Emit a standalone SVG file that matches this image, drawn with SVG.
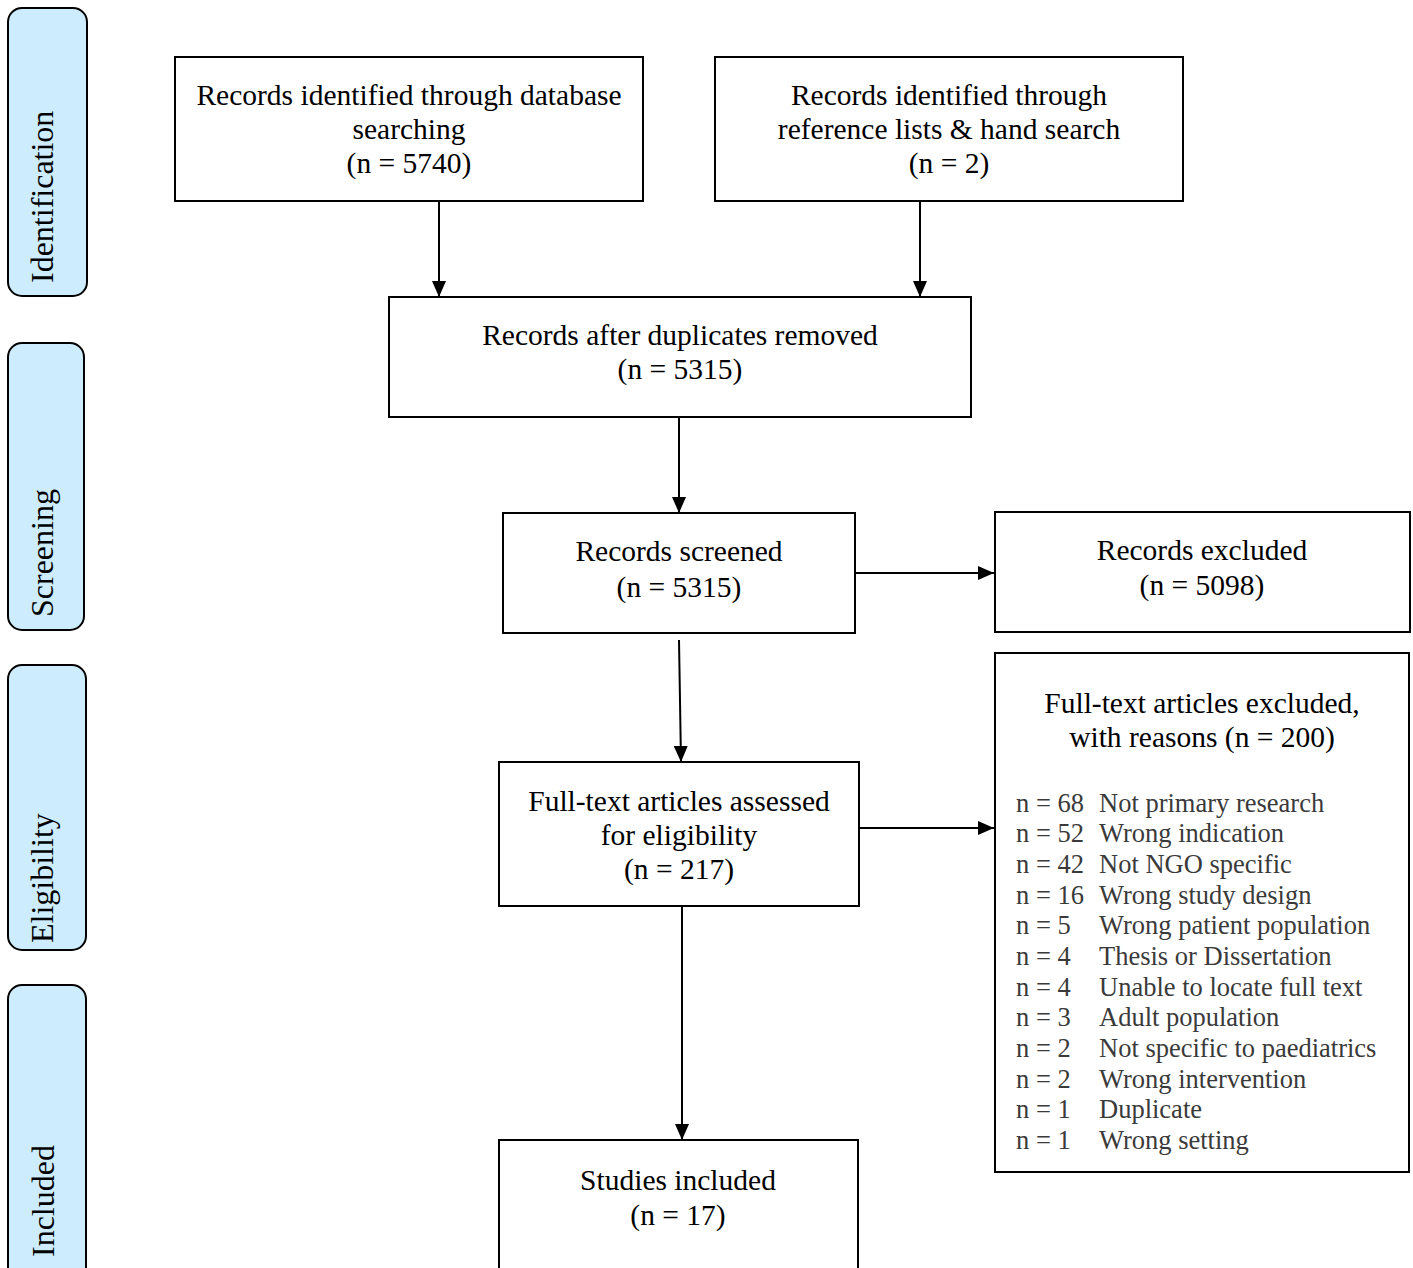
<svg xmlns="http://www.w3.org/2000/svg" width="1413" height="1268" viewBox="0 0 1413 1268">
<defs>
<style>
.box{fill:#fff;stroke:#000;stroke-width:2}
.pill{fill:#cdedff;stroke:#000;stroke-width:2}
.t{font-family:"Liberation Serif","Times New Roman",serif;font-size:29.5px;fill:#000;text-anchor:middle}
.ph{font-family:"Liberation Serif","Times New Roman",serif;font-size:32px;fill:#000;text-anchor:start}
.l{font-family:"Liberation Serif","Times New Roman",serif;font-size:26.5px;fill:#3a3a3a}
.c{stroke:#000;stroke-width:2;fill:none;marker-end:url(#ah)}
</style>
<marker id="ah" markerWidth="16" markerHeight="14" refX="16" refY="7" orient="auto" markerUnits="userSpaceOnUse" viewBox="0 0 16 14">
<path d="M0,0 L16,7 L0,14 z" fill="#000"/>
</marker>
</defs>
<rect width="1413" height="1268" fill="#fff"/>

<g id="phase-identification">
<rect class="pill" x="8" y="8" width="79" height="288" rx="14"/>
<text class="ph" transform="translate(53,283) rotate(-90)">Identification</text>
</g>
<g id="phase-screening">
<rect class="pill" x="8" y="343" width="76" height="287" rx="14"/>
<text class="ph" transform="translate(53,617) rotate(-90)">Screening</text>
</g>
<g id="phase-eligibility">
<rect class="pill" x="8" y="665" width="78" height="285" rx="14"/>
<text class="ph" transform="translate(53,943) rotate(-90)">Eligibility</text>
</g>
<g id="phase-included">
<rect class="pill" x="8" y="985" width="78" height="300" rx="14"/>
<text class="ph" transform="translate(54,1257) rotate(-90)">Included</text>
</g>

<g id="connectors">
<line class="c" x1="439" y1="201" x2="439" y2="297"/>
<line class="c" x1="920" y1="201" x2="920" y2="297"/>
<line class="c" x1="679" y1="417" x2="679" y2="513"/>
<line class="c" x1="855" y1="573" x2="994" y2="573"/>
<line class="c" x1="679" y1="640" x2="681" y2="762"/>
<line class="c" x1="859" y1="828" x2="994" y2="828"/>
<line class="c" x1="682" y1="906" x2="682" y2="1140"/>
</g>

<g id="n-database">
<rect class="box" x="175" y="57" width="468" height="144"/>
<text class="t" x="409" y="105">Records identified through database</text>
<text class="t" x="409" y="139">searching</text>
<text class="t" x="409" y="173">(n = 5740)</text>
</g>
<g id="n-handsearch">
<rect class="box" x="715" y="57" width="468" height="144"/>
<text class="t" x="949" y="105">Records identified through</text>
<text class="t" x="949" y="139">reference lists &amp; hand search</text>
<text class="t" x="949" y="173">(n = 2)</text>
</g>
<g id="n-duplicates">
<rect class="box" x="389" y="297" width="582" height="120"/>
<text class="t" x="680" y="345">Records after duplicates removed</text>
<text class="t" x="680" y="379">(n = 5315)</text>
</g>
<g id="n-screened">
<rect class="box" x="503" y="513" width="352" height="120"/>
<text class="t" x="679" y="561">Records screened</text>
<text class="t" x="679" y="597">(n = 5315)</text>
</g>
<g id="n-excluded">
<rect class="box" x="995" y="512" width="415" height="120"/>
<text class="t" x="1202" y="560">Records excluded</text>
<text class="t" x="1202" y="595">(n = 5098)</text>
</g>
<g id="n-fulltext">
<rect class="box" x="499" y="762" width="360" height="144"/>
<text class="t" x="679" y="811">Full-text articles assessed</text>
<text class="t" x="679" y="845">for eligibility</text>
<text class="t" x="679" y="879">(n = 217)</text>
</g>
<g id="n-ft-excluded">
<rect class="box" x="995" y="653" width="414" height="519"/>
<text class="t" x="1202" y="713">Full-text articles excluded,</text>
<text class="t" x="1202" y="747">with reasons (n = 200)</text>
<g class="l">
<text x="1016" y="812">n = 68</text><text x="1099" y="812">Not primary research</text>
<text x="1016" y="842">n = 52</text><text x="1099" y="842">Wrong indication</text>
<text x="1016" y="873">n = 42</text><text x="1099" y="873">Not NGO specific</text>
<text x="1016" y="904">n = 16</text><text x="1099" y="904">Wrong study design</text>
<text x="1016" y="934">n = 5</text><text x="1099" y="934">Wrong patient population</text>
<text x="1016" y="965">n = 4</text><text x="1099" y="965">Thesis or Dissertation</text>
<text x="1016" y="996">n = 4</text><text x="1099" y="996">Unable to locate full text</text>
<text x="1016" y="1026">n = 3</text><text x="1099" y="1026">Adult population</text>
<text x="1016" y="1057">n = 2</text><text x="1099" y="1057">Not specific to paediatrics</text>
<text x="1016" y="1088">n = 2</text><text x="1099" y="1088">Wrong intervention</text>
<text x="1016" y="1118">n = 1</text><text x="1099" y="1118">Duplicate</text>
<text x="1016" y="1149">n = 1</text><text x="1099" y="1149">Wrong setting</text>
</g>
</g>
<g id="n-included">
<rect class="box" x="499" y="1140" width="359" height="140"/>
<text class="t" x="678" y="1190">Studies included</text>
<text class="t" x="678" y="1225">(n = 17)</text>
</g>
</svg>
